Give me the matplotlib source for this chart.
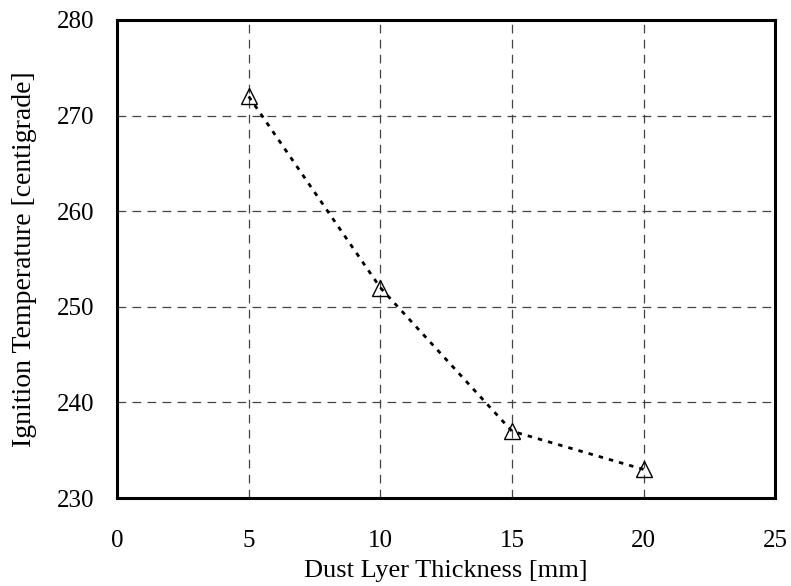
import matplotlib
matplotlib.use("Agg")
import matplotlib.pyplot as plt

thickness = [5, 10, 15, 20]
ign_temp = [272, 252, 237, 233]
x_ticks = [0, 5, 10, 15, 20, 25]
y_ticks = [230, 240, 250, 260, 270, 280]

plt.rcParams['font.family'] = ['Liberation Serif', 'DejaVu Serif']

fig = plt.figure(figsize=(7.91, 5.86), dpi=100)
ax = fig.add_axes([0.148, 0.150, 0.832, 0.816])

ax.plot(thickness, ign_temp, linestyle=(0, (1.6, 2.2)), color='black', linewidth=2.0,
        marker='^', markersize=12, markerfacecolor='none', markeredgecolor='black',
        markeredgewidth=1.0, zorder=3)

ax.set_xlim(0, 25)
ax.set_ylim(230, 280)
ax.set_xticks(x_ticks)
ax.set_yticks(y_ticks)
ax.tick_params(length=0, labelsize=18)
ax.tick_params(axis='x', pad=23)
ax.tick_params(axis='y', pad=16)
ax.grid(True, linestyle=(0, (7, 5)), color='#444444', linewidth=0.9)
for s in ax.spines.values():
    s.set_linewidth(2.2)
ax.set_xlabel('Dust Lyer Thickness [mm]', fontsize=19, labelpad=6)
ax.set_ylabel('Ignition Temperature [centigrade]', fontsize=20, labelpad=15)

fig.savefig('out.png', dpi=100)
